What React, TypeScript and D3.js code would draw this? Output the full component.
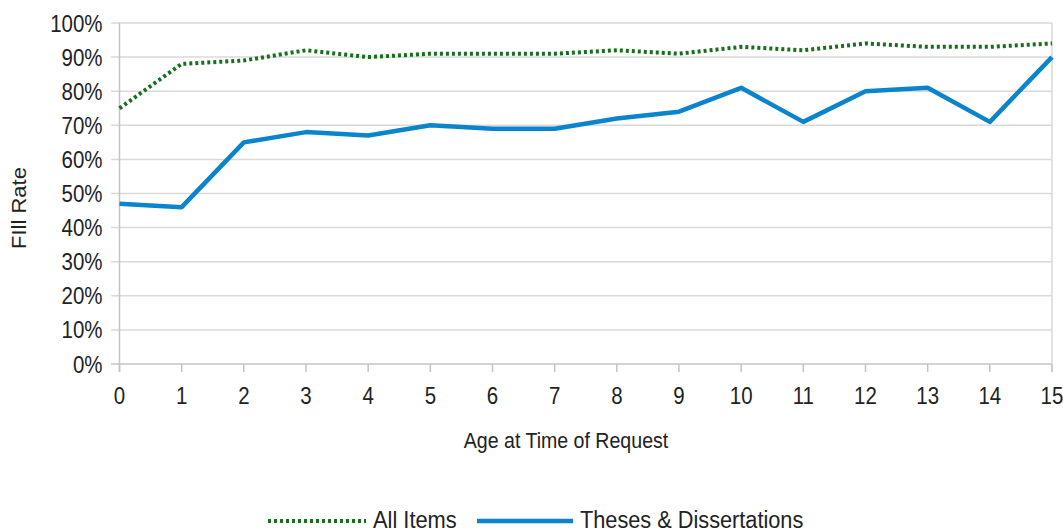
import React from "react";
import * as d3 from "d3";

const ages = [0, 1, 2, 3, 4, 5, 6, 7, 8, 9, 10, 11, 12, 13, 14, 15];
const allItems = [75, 88, 89, 92, 90, 91, 91, 91, 92, 91, 93, 92, 94, 93, 93, 94];
const theses = [47, 46, 65, 68, 67, 70, 69, 69, 72, 74, 81, 71, 80, 81, 71, 90];
const yTicks = [0, 10, 20, 30, 40, 50, 60, 70, 80, 90, 100];
const seriesNames = ["All Items", "Theses & Dissertations"];

const W = 1063;
const H = 532;
const FONT = "'Liberation Sans', Arial, sans-serif";
const SX = 0.89;
const GREEN = "#16701a";
const BLUE = "#0a84cd";
const GRID = "#d9d9d9";
const AXIS = "#c4c4c4";
const TEXT = "#222";

export default function App() {
  const x = d3.scaleLinear().domain([0, 15]).range([119.5, 1052]);
  const y = d3.scaleLinear().domain([0, 100]).range([364, 23]);
  const line = d3
    .line<number>()
    .x((_, i) => x(ages[i]))
    .y((d) => y(d));

  const T = (
    px: number,
    py: number,
    s: string,
    size: number,
    anchor: string,
    rot = false,
    sx = SX
  ) => (
    <text
      transform={`translate(${px},${py}) scale(${sx},1)${rot ? " rotate(-90)" : ""}`}
      fontFamily={FONT}
      fontSize={size}
      fill={TEXT}
      textAnchor={anchor}
    >
      {s}
    </text>
  );

  return (
    <div style={{ position: "absolute", left: 0, top: 0 }}>
      <svg width={W} height={H} style={{ display: "block", background: "#fff" }}>
        {yTicks.map((t) => (
          <g key={"g" + t}>
            <line x1={111} x2={1052} y1={y(t)} y2={y(t)} stroke={t === 0 ? AXIS : GRID} strokeWidth={1.5} />
            {T(102.5, y(t) + 8.5, t + "%", 23, "end")}
          </g>
        ))}
        <line x1={x(0)} x2={x(0)} y1={y(100)} y2={372} stroke={AXIS} strokeWidth={1.5} />
        <line x1={x(15)} x2={x(15)} y1={y(100)} y2={372} stroke={GRID} strokeWidth={1.5} />
        {ages.map((a) => (
          <g key={"x" + a}>
            <line x1={x(a)} x2={x(a)} y1={364} y2={372} stroke={AXIS} strokeWidth={1.5} />
            {T(x(a), 404, String(a), 23, "middle")}
          </g>
        ))}
        <path d={line(theses) || ""} fill="none" stroke={BLUE} strokeWidth={4.5} strokeLinejoin="round" />
        <path d={line(allItems) || ""} fill="none" stroke={GREEN} strokeWidth={4} strokeDasharray="3,3" />
        {T(566, 448, "Age at Time of Request", 22, "middle")}
        {T(26, 208, "FIll Rate", 22, "middle", true)}
        <line x1={268} x2={366} y1={521} y2={521} stroke={GREEN} strokeWidth={4} strokeDasharray="3,3" />
        {T(373, 528, seriesNames[0], 23, "start", false, 0.95)}
        <line x1={477} x2={573} y1={521} y2={521} stroke={BLUE} strokeWidth={4.5} />
        {T(580, 528, seriesNames[1], 23, "start", false, 0.945)}
      </svg>
    </div>
  );
}
